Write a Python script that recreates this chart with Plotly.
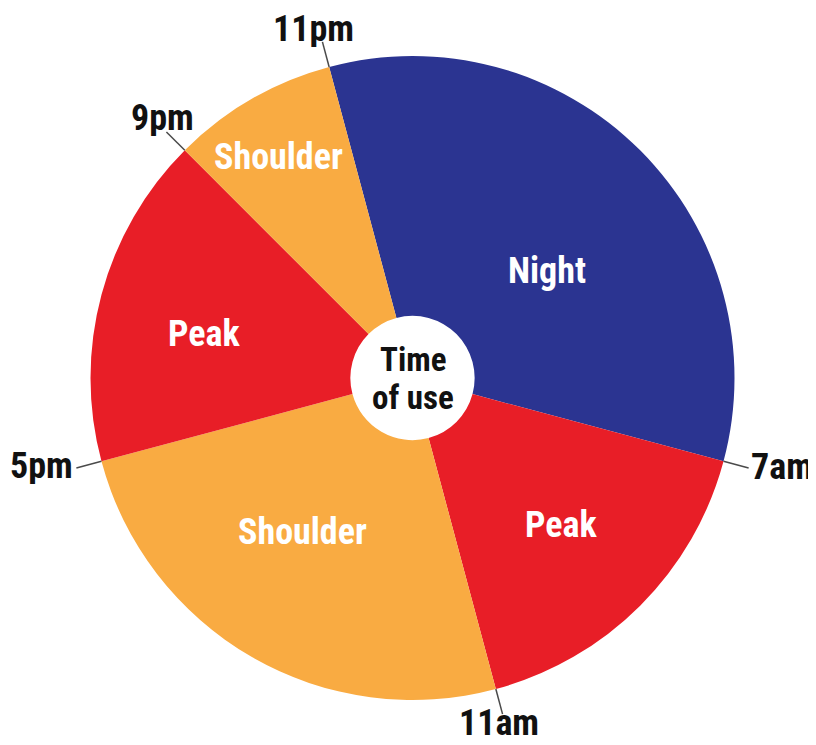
import math
import plotly.graph_objects as go

# ---- data ----
segments = ["Night", "Peak", "Shoulder", "Peak", "Shoulder"]
durations_h = [8, 4, 6, 4, 2]          # hours in each tariff period
start_hour = 23                        # first segment starts at 11pm
boundary_labels = ["11pm", "7am", "11am", "5pm", "9pm"]
center_text = ["Time", "of use"]

# ---- style ----
colors = {"Night": "#2B3491", "Peak": "#E81E27", "Shoulder": "#F9AB42"}
FONT = "Liberation Sans Narrow, Roboto Condensed, Arial Narrow, sans-serif"
W, H = 816, 745
PAGE_PAD = 8  # default body margin of the html page
L, T = 40 - PAGE_PAD, 56 - PAGE_PAD
PW, PH = 745, 644
R, B = W - L - PW, H - T - PH
RAD = min(PW, PH) / 2.0
HOLE = 0.193
FS = 36

# per-slice label placement (fraction of radius, angle tweak in degrees)
label_rfrac = [0.533, 0.648, 0.586, 0.662, 0.803]
label_dang = [6.6, -0.2, 5.5, -3.2, -1.1]
# boundary label placement (pixels from centre, angle tweak)
blabel_r = [363, 380, 356, 381, 361]
blabel_dang = [-0.8, -1.4, 0.9, 1.7, 1.1]


def polar_to_paper(r_px, ang_deg):
    a = math.radians(ang_deg)
    cx, cy = PW / 2.0, PH / 2.0
    px = cx + r_px * math.sin(a)
    py = cy - r_px * math.cos(a)
    return px / PW, 1 - py / PH


fig = go.Figure(go.Pie(
    labels=[f"{s} {i}" for i, s in enumerate(segments)],
    values=durations_h,
    sort=False,
    direction="clockwise",
    rotation=start_hour * 15 - 360,
    hole=HOLE,
    marker=dict(colors=[colors[s] for s in segments], line=dict(width=0)),
    textinfo="none",
    showlegend=False,
    hoverinfo="skip",
))

annotations = []
shapes = []
hour = start_hour
for i, (seg, dur) in enumerate(zip(segments, durations_h)):
    a0 = hour * 15
    a1 = (hour + dur) * 15
    mid = (a0 + a1) / 2.0 + label_dang[i]
    x, y = polar_to_paper(RAD * label_rfrac[i], mid)
    annotations.append(dict(
        x=x, y=y, xref="paper", yref="paper", text=seg, showarrow=False,
        font=dict(family=FONT, size=FS, color="white", weight="bold"),
        xanchor="center", yanchor="middle"))
    # boundary tick + label at start of segment
    x0, y0 = polar_to_paper(RAD, a0)
    x1, y1 = polar_to_paper(RAD + 26, a0)
    shapes.append(dict(type="line", xref="paper", yref="paper",
                       x0=x0, y0=y0, x1=x1, y1=y1,
                       line=dict(color="#4a4a4a", width=1.5)))
    bx, by = polar_to_paper(blabel_r[i], a0 + blabel_dang[i])
    annotations.append(dict(
        x=bx, y=by, xref="paper", yref="paper", text=boundary_labels[i],
        showarrow=False, height=36,
        font=dict(family=FONT, size=FS, color="#111111", weight="bold"),
        xanchor="center", yanchor="middle"))
    hour = (hour + dur) % 24

# centre text
for j, line in enumerate(center_text):
    annotations.append(dict(
        x=0.5, y=0.5 + (0.5 - j) * 38 / PH, xref="paper", yref="paper",
        text=line, showarrow=False, height=34,
        font=dict(family=FONT, size=33, color="#111111", weight="bold"),
        xanchor="center", yanchor="middle"))

fig.update_layout(
    width=W, height=H,
    margin=dict(l=L, r=R, t=T, b=B),
    paper_bgcolor="white", plot_bgcolor="white",
    annotations=annotations, shapes=shapes,
)

fig.write_html("out.html")
